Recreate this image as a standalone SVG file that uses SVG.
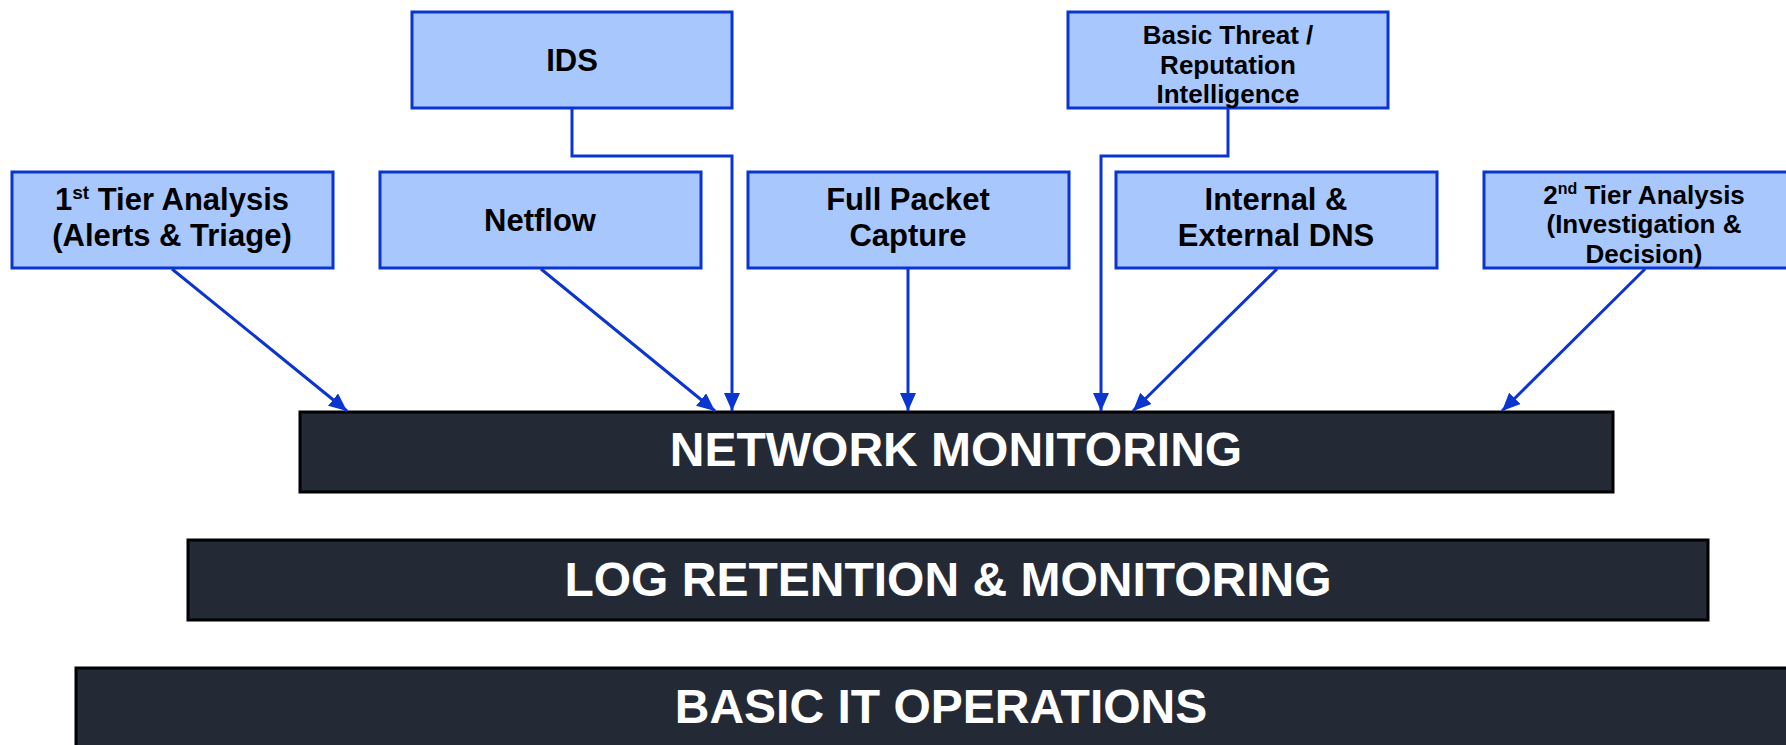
<svg xmlns="http://www.w3.org/2000/svg" width="1786" height="745" viewBox="0 0 1786 745">
  <style>
    .box { fill: #a8c8fd; stroke: #0a35d0; stroke-width: 3; }
    .bar { fill: #232a35; stroke: #000000; stroke-width: 3; }
    .lbl { font-family: "Liberation Sans", Arial, sans-serif; font-weight: bold; fill: #000000; text-anchor: middle; }
    .big { font-size: 31px; }
    .small { font-size: 26px; }
    .bartxt { font-family: "Liberation Sans", Arial, sans-serif; font-weight: bold; font-size: 48px; fill: #ffffff; text-anchor: middle; }
    .wire { fill: none; stroke: #0a35d0; stroke-width: 3; }
  </style>
  <defs>
    <marker id="arrow" markerWidth="20" markerHeight="18" refX="18" refY="8" orient="auto" markerUnits="userSpaceOnUse">
      <path d="M0,0 L18,8 L0,16 Z" fill="#0a35d0"/>
    </marker>
  </defs>
  <rect width="1786" height="745" fill="#ffffff"/>

  <!-- layered foundation bars -->
  <g id="network-monitoring">
    <rect class="bar" x="300" y="412" width="1313" height="80"/>
    <text class="bartxt" x="956" y="466">NETWORK MONITORING</text>
  </g>
  <g id="log-retention">
    <rect class="bar" x="188" y="540" width="1520" height="80"/>
    <text class="bartxt" x="948" y="596">LOG RETENTION &amp; MONITORING</text>
  </g>
  <g id="basic-it-ops">
    <rect class="bar" x="76" y="668" width="1740" height="90"/>
    <text class="bartxt" x="941" y="723">BASIC IT OPERATIONS</text>
  </g>

  <!-- upper row -->
  <g id="ids">
    <rect class="box" x="412" y="12" width="320" height="96"/>
    <text class="lbl big" x="572" y="71">IDS</text>
  </g>
  <g id="threat-intel">
    <rect class="box" x="1068" y="12" width="320" height="96"/>
    <text class="lbl small" x="1228" y="44">Basic Threat /</text>
    <text class="lbl small" x="1228" y="74">Reputation</text>
    <text class="lbl small" x="1228" y="103">Intelligence</text>
  </g>

  <!-- lower row -->
  <g id="tier1">
    <rect class="box" x="12" y="172" width="321" height="96"/>
    <text class="lbl big" x="172" y="210">1<tspan font-size="19" dy="-11">st</tspan><tspan dy="11"> Tier Analysis</tspan></text>
    <text class="lbl big" x="172" y="246">(Alerts &amp; Triage)</text>
  </g>
  <g id="netflow">
    <rect class="box" x="380" y="172" width="321" height="96"/>
    <text class="lbl big" x="540" y="231">Netflow</text>
  </g>
  <g id="full-packet">
    <rect class="box" x="748" y="172" width="321" height="96"/>
    <text class="lbl big" x="908" y="210">Full Packet</text>
    <text class="lbl big" x="908" y="246">Capture</text>
  </g>
  <g id="dns">
    <rect class="box" x="1116" y="172" width="321" height="96"/>
    <text class="lbl big" x="1276" y="210">Internal &amp;</text>
    <text class="lbl big" x="1276" y="246">External DNS</text>
  </g>
  <g id="tier2">
    <rect class="box" x="1484" y="172" width="321" height="96"/>
    <text class="lbl small" x="1644" y="204">2<tspan font-size="16" dy="-10">nd</tspan><tspan dy="10"> Tier Analysis</tspan></text>
    <text class="lbl small" x="1644" y="233">(Investigation &amp;</text>
    <text class="lbl small" x="1644" y="263">Decision)</text>
  </g>

  <!-- connectors into network monitoring -->
  <g id="connectors">
    <path class="wire" marker-end="url(#arrow)" d="M172,269 L347,411"/>
    <path class="wire" marker-end="url(#arrow)" d="M541,269 L715,411"/>
    <path class="wire" marker-end="url(#arrow)" d="M572,108 L572,156 L732,156 L732,411"/>
    <path class="wire" marker-end="url(#arrow)" d="M908,268 L908,411"/>
    <path class="wire" marker-end="url(#arrow)" d="M1228,108 L1228,156 L1101,156 L1101,411"/>
    <path class="wire" marker-end="url(#arrow)" d="M1277,269 L1133,411"/>
    <path class="wire" marker-end="url(#arrow)" d="M1645,269 L1502,411"/>
  </g>
</svg>
